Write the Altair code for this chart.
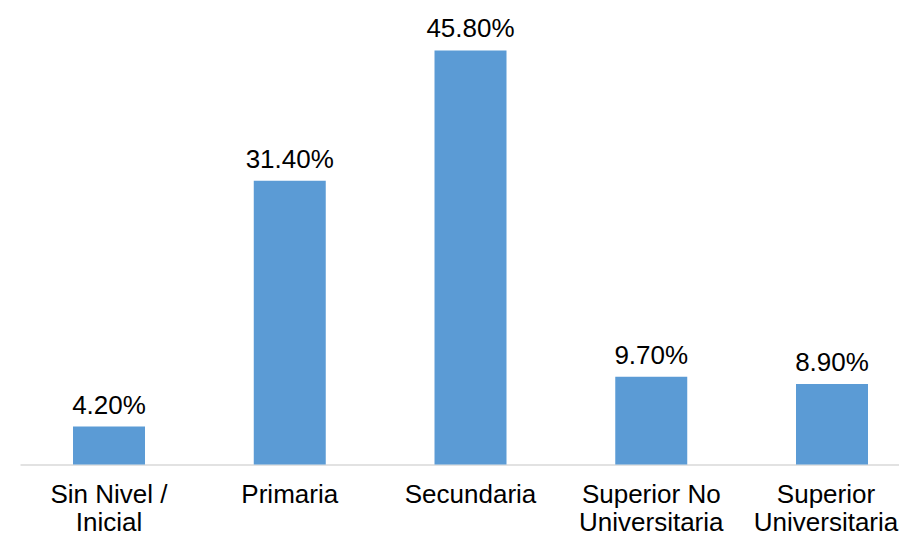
import altair as alt
import pandas as pd

categories = ["Sin Nivel /\nInicial", "Primaria", "Secundaria", "Superior No\nUniversitaria", "Superior\nUniversitaria"]
values = [4.20, 31.40, 45.80, 9.70, 8.90]
labels = ["4.20%", "31.40%", "45.80%", "9.70%", "8.90%"]

df = pd.DataFrame({"cat": categories, "val": values, "lbl": labels})

FONT = "Liberation Sans"

x = alt.X(
    "cat:N",
    sort=None,
    title=None,
    scale=alt.Scale(paddingInner=0.6017, paddingOuter=0.2324, align=0.631, round=False),
    axis=alt.Axis(
        labelExpr="split(datum.label, '\\n')",
        labelAngle=0,
        labelFont=FONT,
        labelFontSize=26,
        labelColor="#000000",
        labelLineHeight=28.5,
        labelPadding=16.5,
        labelBaseline="top",
        labelOffset={"condition": {"test": "datum.value === 'Superior\\nUniversitaria'", "value": -6}, "value": 0},
        ticks=False,
        domainColor="#d9d9d9",
        domainWidth=1.5,
        grid=False,
    ),
)
y = alt.Y("val:Q", axis=None, scale=alt.Scale(domain=[0, 50], nice=False, zero=True))

bars = alt.Chart(df).mark_bar(color="#5b9bd5").encode(x=x, y=y)
text = alt.Chart(df).mark_text(
    font=FONT, fontSize=26, color="#000000", baseline="alphabetic", dy=-13
).encode(x=x, y=y, text="lbl:N")

chart = (bars + text).properties(
    width=879,
    height=452,
    autosize=alt.AutoSizeParams(type="none"),
    padding={"left": 12, "top": 4.5, "right": 0, "bottom": 80},
).configure_view(stroke=None)

chart.save("out.html", embed_options={"renderer": "svg", "actions": False})
